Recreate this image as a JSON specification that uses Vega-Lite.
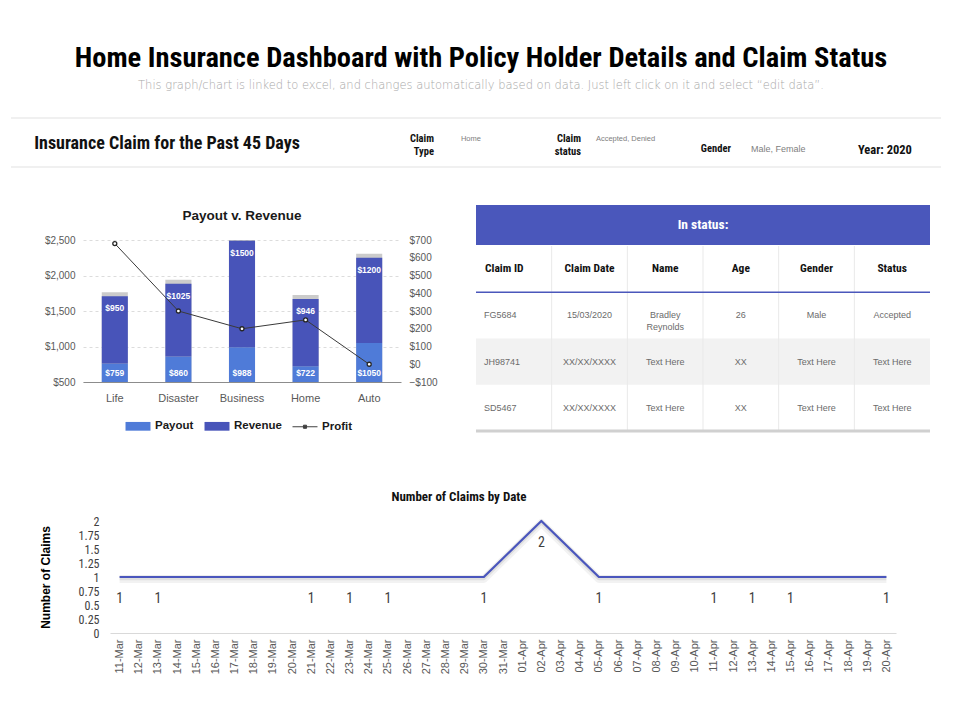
{
  "$schema": "https://vega.github.io/schema/vega-lite/v6.json",
  "background": "white",
  "padding": {"left": 10, "top": 44, "right": 10, "bottom": 10},
  "spacing": 0,
  "resolve": {"scale": {"color": "independent"}},
  "config": {
    "view": {"stroke": null},
    "font": "Liberation Sans",
    "legend": {"layout": {"bottom": {"anchor": "middle"}}}
  },
  "vconcat": [
    {
      "width": 940,
      "height": 20,
      "data": {"values": []},
      "mark": "point",
      "title": {
        "text": "Home Insurance Dashboard with Policy Holder Details and Claim Status",
        "subtitle": "This graph/chart is linked to excel, and changes automatically based on data. Just left click on it and select “edit data”.",
        "anchor": "middle",
        "font": "Roboto Condensed, Liberation Sans Narrow, Roboto, sans-serif",
        "fontSize": 28.5,
        "fontWeight": "bold",
        "color": "#000000",
        "subtitleFont": "DejaVu Sans, Liberation Sans, sans-serif",
        "subtitleFontSize": 11.5,
        "subtitleFontWeight": 200,
        "subtitleColor": "#a8a8a8",
        "subtitlePadding": 7,
        "offset": 6
      }
    },
    {
      "width": 930,
      "height": 49,
      "layer": [
        {
          "data": {"values": [{"edge": "top"}, {"edge": "bottom"}]},
          "mark": {"type": "rule", "color": "#ebebeb", "strokeWidth": 1.5},
          "encoding": {
            "y": {"field": "edge", "type": "nominal", "scale": {"type": "point", "domain": ["top", "bottom"], "padding": 0}, "axis": null}
          }
        },
        {
          "data": {"values": [
            {"slot": "heading", "label": "Insurance Claim for the Past 45 Days"},
            {"slot": "type", "label": "Claim\nType", "choice": "Home"},
            {"slot": "status", "label": "Claim\nstatus", "choice": "Accepted,  Denied"},
            {"slot": "gender", "label": "Gender", "choice": "Male, Female"},
            {"slot": "year", "label": "Year: 2020"}
          ]},
          "encoding": {
            "x": {"field": "slot", "type": "nominal", "scale": {"type": "point", "domain": ["heading", "type", "status", "gender", "year"], "padding": 1, "align": 0.832}, "axis": null}
          },
          "layer": [
            {
              "transform": [{"filter": "datum.slot === 'heading'"}],
              "mark": {"type": "text", "align": "right", "dx": 31, "dy": 1.5, "font": "Roboto Condensed, Liberation Sans Narrow, Roboto, sans-serif", "fontSize": 18, "fontWeight": "bold", "color": "#111111"},
              "encoding": {"text": {"field": "label"}}
            },
            {
              "transform": [{"filter": "datum.slot === 'type'"}],
              "mark": {"type": "text", "align": "right", "dx": 10, "dy": -4, "lineBreak": "\n", "lineHeight": 13, "font": "Roboto Condensed, Liberation Sans Narrow, Roboto, sans-serif", "fontSize": 10.5, "fontWeight": "bold", "color": "#111111"},
              "encoding": {"text": {"field": "label"}}
            },
            {
              "transform": [{"filter": "datum.slot === 'status'"}],
              "mark": {"type": "text", "align": "right", "dx": 2, "dy": -4, "lineBreak": "\n", "lineHeight": 13, "font": "Roboto Condensed, Liberation Sans Narrow, Roboto, sans-serif", "fontSize": 10.5, "fontWeight": "bold", "color": "#111111"},
              "encoding": {"text": {"field": "label"}}
            },
            {
              "transform": [{"filter": "datum.slot === 'type'"}],
              "mark": {"type": "text", "align": "left", "dx": 37, "dy": -3.5, "fontSize": 7.5, "color": "#808080"},
              "encoding": {"text": {"field": "choice"}}
            },
            {
              "transform": [{"filter": "datum.slot === 'status'"}],
              "mark": {"type": "text", "align": "left", "dx": 17, "dy": -3.5, "fontSize": 7.5, "color": "#808080"},
              "encoding": {"text": {"field": "choice"}}
            },
            {
              "transform": [{"filter": "datum.slot === 'gender'"}],
              "mark": {"type": "text", "align": "right", "dx": -3, "dy": 6.5, "font": "Roboto Condensed, Liberation Sans Narrow, Roboto, sans-serif", "fontSize": 10.5, "fontWeight": "bold", "color": "#111111"},
              "encoding": {"text": {"field": "label"}}
            },
            {
              "transform": [{"filter": "datum.slot === 'gender'"}],
              "mark": {"type": "text", "align": "left", "dx": 17, "dy": 6.5, "fontSize": 9, "color": "#808080"},
              "encoding": {"text": {"field": "choice"}}
            },
            {
              "transform": [{"filter": "datum.slot === 'year'"}],
              "mark": {"type": "text", "align": "center", "dx": -4, "dy": 7.5, "font": "Roboto Condensed, Liberation Sans Narrow, Roboto, sans-serif", "fontSize": 12.5, "fontWeight": "bold", "color": "#111111"},
              "encoding": {"text": {"field": "label"}}
            }
          ]
        }
      ]
    },
    {"width": 1, "height": 37, "data": {"values": []}, "mark": "point"},
    {
      "spacing": 32,
      "resolve": {"scale": {"color": "independent"}},
      "hconcat": [
        {"width": 1, "height": 1, "data": {"values": []}, "mark": "point"},
        {
          "spacing": 36,
          "resolve": {"scale": {"color": "independent"}},
          "hconcat": [
            {
              "spacing": 0,
              "resolve": {"scale": {"color": "independent"}},
              "vconcat": [
                {"width": 1, "height": 4, "data": {"values": []}, "mark": "point"},
                {
                  "width": 318,
                  "height": 142,
                  "title": {"text": "Payout v. Revenue", "font": "Liberation Sans", "fontSize": 13.5, "fontWeight": "bold", "color": "#1a1a1a", "offset": 12.5},
                  "data": {"values": [
                    {"category": "Life", "series": "Payout", "amount": 759},
                    {"category": "Life", "series": "Revenue", "amount": 950},
                    {"category": "Disaster", "series": "Payout", "amount": 860},
                    {"category": "Disaster", "series": "Revenue", "amount": 1025},
                    {"category": "Business", "series": "Payout", "amount": 988},
                    {"category": "Business", "series": "Revenue", "amount": 1500},
                    {"category": "Home", "series": "Payout", "amount": 722},
                    {"category": "Home", "series": "Revenue", "amount": 946},
                    {"category": "Auto", "series": "Payout", "amount": 1050},
                    {"category": "Auto", "series": "Revenue", "amount": 1200}
                  ]},
                  "resolve": {"scale": {"y": "independent"}},
                  "layer": [
                    {
                      "layer": [
                        {
                          "transform": [{"aggregate": [{"op": "sum", "field": "amount", "as": "total"}], "groupby": ["category"]}],
                          "mark": {"type": "bar", "color": "#a9a9a9", "opacity": 0.6, "yOffset": -4, "clip": true},
                          "encoding": {
                            "x": {"field": "category", "type": "nominal", "sort": ["Life", "Disaster", "Business", "Home", "Auto"], "scale": {"paddingInner": 0.59, "paddingOuter": 0.295}, "axis": {"title": null, "labelAngle": 0, "ticks": false, "domainColor": "#8c8c8c", "labelColor": "#595959", "labelFontSize": 11, "labelPadding": 10, "grid": false}},
                            "y": {"field": "total", "type": "quantitative", "scale": {"domain": [500, 2500], "zero": false}, "axis": {"values": [500, 1000, 1500, 2000, 2500], "format": "$,.0f", "title": null, "domain": false, "ticks": false, "grid": true, "gridDash": [3, 3], "gridColor": "#dcdcdc", "labelColor": "#595959", "labelFontSize": 10, "labelPadding": 8}},
                            "y2": {"datum": 500}
                          }
                        },
                        {
                          "mark": {"type": "bar", "clip": true},
                          "encoding": {
                            "x": {"field": "category", "type": "nominal", "sort": ["Life", "Disaster", "Business", "Home", "Auto"], "scale": {"paddingInner": 0.59, "paddingOuter": 0.295}, "axis": {"title": null, "labelAngle": 0, "ticks": false, "domainColor": "#8c8c8c", "labelColor": "#595959", "labelFontSize": 11, "labelPadding": 10, "grid": false}},
                            "y": {"field": "amount", "type": "quantitative", "stack": "zero", "scale": {"domain": [500, 2500], "zero": false}, "axis": {"values": [500, 1000, 1500, 2000, 2500], "format": "$,.0f", "title": null, "domain": false, "ticks": false, "grid": true, "gridDash": [3, 3], "gridColor": "#dcdcdc", "labelColor": "#595959", "labelFontSize": 10, "labelPadding": 8}},
                            "color": {
                              "field": "series",
                              "type": "nominal",
                              "scale": {"domain": ["Payout", "Revenue", "Profit"], "range": ["#4f7bd8", "#4854b9", "#404040"]},
                              "legend": {
                                "title": null,
                                "orient": "bottom",
                                "direction": "horizontal",
                                "offset": 16,
                                "labelFont": "Liberation Sans",
                                "labelFontSize": 11.5,
                                "labelFontWeight": "bold",
                                "labelColor": "#1a1a1a",
                                "labelOffset": 10,
                                "columnPadding": 8,
                                "symbolSize": 156,
                                "encode": {
                                  "symbols": {
                                    "update": {
                                      "shape": {"signal": "datum.value === 'Profit' ? 'M-2,0H2M-0.25,-0.25H0.25V0.25H-0.25Z' : 'M-2,-0.7H2V0.7H-2Z'"},
                                      "fill": {"signal": "datum.value === 'Profit' ? '#404040' : (datum.value === 'Payout' ? '#4f7bd8' : '#4854b9')"},
                                      "stroke": {"signal": "datum.value === 'Profit' ? '#404040' : 'transparent'"},
                                      "strokeWidth": {"value": 1},
                                      "opacity": {"value": 1}
                                    }
                                  }
                                }
                              }
                            },
                            "order": {"field": "series", "sort": "ascending"}
                          }
                        },
                        {
                          "transform": [
                            {"stack": "amount", "groupby": ["category"], "sort": [{"field": "series", "order": "ascending"}], "as": ["lo", "hi"]},
                            {"filter": "datum.series === 'Revenue'"}
                          ],
                          "mark": {"type": "text", "color": "white", "fontSize": 8.5, "fontWeight": "bold", "dy": 12},
                          "encoding": {
                            "x": {"field": "category", "type": "nominal", "sort": ["Life", "Disaster", "Business", "Home", "Auto"], "scale": {"paddingInner": 0.59, "paddingOuter": 0.295}, "axis": {"title": null, "labelAngle": 0, "ticks": false, "domainColor": "#8c8c8c", "labelColor": "#595959", "labelFontSize": 11, "labelPadding": 10, "grid": false}},
                            "y": {"field": "hi", "type": "quantitative", "scale": {"domain": [500, 2500], "zero": false}, "axis": {"values": [500, 1000, 1500, 2000, 2500], "format": "$,.0f", "title": null, "domain": false, "ticks": false, "grid": true, "gridDash": [3, 3], "gridColor": "#dcdcdc", "labelColor": "#595959", "labelFontSize": 10, "labelPadding": 8}},
                            "text": {"field": "amount", "type": "quantitative", "format": "$d"}
                          }
                        },
                        {
                          "transform": [{"filter": "datum.series === 'Payout'"}],
                          "mark": {"type": "text", "color": "white", "fontSize": 8.5, "fontWeight": "bold", "dy": -9},
                          "encoding": {
                            "x": {"field": "category", "type": "nominal", "sort": ["Life", "Disaster", "Business", "Home", "Auto"], "scale": {"paddingInner": 0.59, "paddingOuter": 0.295}, "axis": {"title": null, "labelAngle": 0, "ticks": false, "domainColor": "#8c8c8c", "labelColor": "#595959", "labelFontSize": 11, "labelPadding": 10, "grid": false}},
                            "y": {"datum": 500, "type": "quantitative", "scale": {"domain": [500, 2500], "zero": false}, "axis": {"values": [500, 1000, 1500, 2000, 2500], "format": "$,.0f", "title": null, "domain": false, "ticks": false, "grid": true, "gridDash": [3, 3], "gridColor": "#dcdcdc", "labelColor": "#595959", "labelFontSize": 10, "labelPadding": 8}},
                            "text": {"field": "amount", "type": "quantitative", "format": "$d"}
                          }
                        }
                      ]
                    },
                    {
                      "data": {"values": [
                        {"category": "Life", "profit": 680},
                        {"category": "Disaster", "profit": 300},
                        {"category": "Business", "profit": 200},
                        {"category": "Home", "profit": 250},
                        {"category": "Auto", "profit": 0}
                      ]},
                      "encoding": {
                        "x": {"field": "category", "type": "nominal", "sort": ["Life", "Disaster", "Business", "Home", "Auto"], "scale": {"paddingInner": 0.59, "paddingOuter": 0.295}, "axis": {"title": null, "labelAngle": 0, "ticks": false, "domainColor": "#8c8c8c", "labelColor": "#595959", "labelFontSize": 11, "labelPadding": 10, "grid": false}},
                        "y": {"field": "profit", "type": "quantitative", "scale": {"domain": [-100, 700]}, "axis": {"orient": "right", "values": [-100, 0, 100, 200, 300, 400, 500, 600, 700], "format": "$,.0f", "title": null, "domain": false, "ticks": false, "grid": false, "labelColor": "#595959", "labelFontSize": 10, "labelPadding": 8}}
                      },
                      "layer": [
                        {"mark": {"type": "line", "color": "#3a3a3a", "strokeWidth": 1, "strokeJoin": "round"}},
                        {"mark": {"type": "point", "filled": true, "fill": "white", "stroke": "#262626", "strokeWidth": 1.3, "size": 16, "opacity": 1}}
                      ]
                    }
                  ]
                }
              ]
            },
            {
              "spacing": 0,
              "vconcat": [
                {
                  "width": 454,
                  "height": 40,
                  "view": {"fill": "#4a57bb", "stroke": null},
                  "data": {"values": [{"caption": "In status:"}]},
                  "mark": {"type": "text", "color": "white", "fontSize": 13.5, "fontWeight": "bold", "font": "Roboto Condensed, Liberation Sans Narrow, Roboto, sans-serif"},
                  "encoding": {"text": {"field": "caption"}}
                },
                {
                  "width": 454,
                  "height": 185,
                  "data": {"values": [
                    {"row": "head", "col": "Claim ID", "text": "Claim ID"},
                    {"row": "head", "col": "Claim Date", "text": "Claim Date"},
                    {"row": "head", "col": "Name", "text": "Name"},
                    {"row": "head", "col": "Age", "text": "Age"},
                    {"row": "head", "col": "Gender", "text": "Gender"},
                    {"row": "head", "col": "Status", "text": "Status"},
                    {"row": "r1", "col": "Claim ID", "text": "FG5684"},
                    {"row": "r1", "col": "Claim Date", "text": "15/03/2020"},
                    {"row": "r1", "col": "Name", "text": "Bradley\nReynolds"},
                    {"row": "r1", "col": "Age", "text": "26"},
                    {"row": "r1", "col": "Gender", "text": "Male"},
                    {"row": "r1", "col": "Status", "text": "Accepted"},
                    {"row": "r2", "col": "Claim ID", "text": "JH98741"},
                    {"row": "r2", "col": "Claim Date", "text": "XX/XX/XXXX"},
                    {"row": "r2", "col": "Name", "text": "Text Here"},
                    {"row": "r2", "col": "Age", "text": "XX"},
                    {"row": "r2", "col": "Gender", "text": "Text Here"},
                    {"row": "r2", "col": "Status", "text": "Text Here"},
                    {"row": "r3", "col": "Claim ID", "text": "SD5467"},
                    {"row": "r3", "col": "Claim Date", "text": "XX/XX/XXXX"},
                    {"row": "r3", "col": "Name", "text": "Text Here"},
                    {"row": "r3", "col": "Age", "text": "XX"},
                    {"row": "r3", "col": "Gender", "text": "Text Here"},
                    {"row": "r3", "col": "Status", "text": "Text Here"}
                  ]},
                  "encoding": {
                    "x": {"field": "col", "type": "nominal", "scale": {"type": "band", "domain": ["Claim ID", "Claim Date", "Name", "Age", "Gender", "Status"], "paddingInner": 0, "paddingOuter": 0}, "axis": null},
                    "y": {"field": "row", "type": "nominal", "scale": {"type": "band", "domain": ["head", "r1", "r2", "r3"], "paddingInner": 0, "paddingOuter": 0}, "axis": null}
                  },
                  "layer": [
                    {
                      "transform": [{"filter": "datum.row === 'r2'"}],
                      "mark": {"type": "rect", "color": "#f2f2f2"}
                    },
                    {
                      "transform": [{"filter": "datum.row === 'head' && datum.col !== 'Claim ID'"}],
                      "mark": {"type": "rule", "color": "#e9e9e9", "strokeWidth": 1},
                      "encoding": {
                        "x": {"field": "col", "type": "nominal", "bandPosition": 0},
                        "y": null
                      }
                    },
                    {
                      "transform": [{"filter": "datum.row === 'head' && datum.col === 'Claim ID'"}],
                      "mark": {"type": "rule", "color": "#4a57bb", "strokeWidth": 1.5},
                      "encoding": {"x": null, "y": {"datum": "r1", "bandPosition": 0}}
                    },
                    {
                      "transform": [{"filter": "datum.row === 'head' && datum.col === 'Claim ID'"}],
                      "mark": {"type": "rule", "color": "#d0d0d0", "strokeWidth": 3},
                      "encoding": {"x": null, "y": {"datum": "r3", "bandPosition": 1}}
                    },
                    {
                      "transform": [{"filter": "datum.row === 'head' && datum.col !== 'Claim ID'"}],
                      "mark": {"type": "text", "font": "Roboto Condensed, Liberation Sans Narrow, Roboto, sans-serif", "fontSize": 11.5, "fontWeight": "bold", "color": "#111111"},
                      "encoding": {"text": {"field": "text"}}
                    },
                    {
                      "transform": [{"filter": "datum.row === 'head' && datum.col === 'Claim ID'"}],
                      "mark": {"type": "text", "align": "left", "dx": 9, "font": "Roboto Condensed, Liberation Sans Narrow, Roboto, sans-serif", "fontSize": 11.5, "fontWeight": "bold", "color": "#111111"},
                      "encoding": {"x": {"field": "col", "type": "nominal", "bandPosition": 0}, "text": {"field": "text"}}
                    },
                    {
                      "transform": [{"filter": "datum.row !== 'head' && datum.col !== 'Claim ID'"}],
                      "mark": {"type": "text", "fontSize": 9, "lineBreak": "\n", "lineHeight": 12, "color": "#6b6b6b"},
                      "encoding": {"text": {"field": "text"}}
                    },
                    {
                      "transform": [{"filter": "datum.row !== 'head' && datum.col === 'Claim ID'"}],
                      "mark": {"type": "text", "align": "left", "dx": 8, "fontSize": 9, "color": "#6b6b6b"},
                      "encoding": {"x": {"field": "col", "type": "nominal", "bandPosition": 0}, "text": {"field": "text"}}
                    }
                  ]
                }
              ]
            }
          ]
        }
      ]
    },
    {"width": 1, "height": 57, "data": {"values": []}, "mark": "point"},
    {
      "spacing": 27,
      "hconcat": [
        {"width": 1, "height": 1, "data": {"values": []}, "mark": "point"},
        {
          "width": 786,
          "height": 112,
          "title": {"text": "Number of Claims by Date", "font": "Roboto Condensed, Liberation Sans Narrow, Roboto, sans-serif", "fontSize": 13, "fontWeight": "bold", "color": "#111111", "offset": 11.5, "anchor": "middle", "dx": -44},
          "data": {"values": [
            {"day": "11-Mar", "claims": 1},
            {"day": "13-Mar", "claims": 1},
            {"day": "21-Mar", "claims": 1},
            {"day": "23-Mar", "claims": 1},
            {"day": "25-Mar", "claims": 1},
            {"day": "30-Mar", "claims": 1},
            {"day": "02-Apr", "claims": 2},
            {"day": "05-Apr", "claims": 1},
            {"day": "11-Apr", "claims": 1},
            {"day": "13-Apr", "claims": 1},
            {"day": "15-Apr", "claims": 1},
            {"day": "20-Apr", "claims": 1}
          ]},
          "encoding": {
            "x": {
              "field": "day",
              "type": "ordinal",
              "scale": {"type": "point", "padding": 0.5, "domain": ["11-Mar", "12-Mar", "13-Mar", "14-Mar", "15-Mar", "16-Mar", "17-Mar", "18-Mar", "19-Mar", "20-Mar", "21-Mar", "22-Mar", "23-Mar", "24-Mar", "25-Mar", "26-Mar", "27-Mar", "28-Mar", "29-Mar", "30-Mar", "31-Mar", "01-Apr", "02-Apr", "03-Apr", "04-Apr", "05-Apr", "06-Apr", "07-Apr", "08-Apr", "09-Apr", "10-Apr", "11-Apr", "12-Apr", "13-Apr", "14-Apr", "15-Apr", "16-Apr", "17-Apr", "18-Apr", "19-Apr", "20-Apr"]},
              "axis": {"title": null, "labelAngle": -90, "ticks": false, "domainColor": "#d9d9d9", "labelColor": "#595959", "labelFontSize": 11, "labelPadding": 6, "grid": false}
            },
            "y": {
              "field": "claims",
              "type": "quantitative",
              "scale": {"domain": [0, 2]},
              "axis": {"values": [0, 0.25, 0.5, 0.75, 1, 1.25, 1.5, 1.75, 2], "format": ".2~f", "labelOverlap": false, "title": "Number of Claims", "titleFont": "Liberation Sans", "titleFontSize": 12, "titleFontWeight": "bold", "titleColor": "#000000", "titlePadding": 26, "labelFont": "Roboto Condensed, Liberation Sans Narrow, Roboto, sans-serif", "labelFontSize": 12, "labelColor": "#404040", "labelPadding": 11, "domain": false, "ticks": false, "grid": false}
            },
            "order": {"value": null}
          },
          "layer": [
            {"mark": {"type": "line", "color": "#000000", "opacity": 0.05, "strokeWidth": 8, "strokeJoin": "round", "yOffset": 2}},
            {"mark": {"type": "line", "color": "#000000", "opacity": 0.08, "strokeWidth": 4.5, "strokeJoin": "round", "yOffset": 1}},
            {"mark": {"type": "line", "color": "#4a56bd", "strokeWidth": 2.2, "strokeJoin": "round"}},
            {"mark": {"type": "text", "dy": 22, "font": "Roboto Condensed, Liberation Sans Narrow, Roboto, sans-serif", "fontSize": 14, "color": "#404040"}, "encoding": {"text": {"field": "claims"}}}
          ]
        }
      ]
    }
  ]
}
